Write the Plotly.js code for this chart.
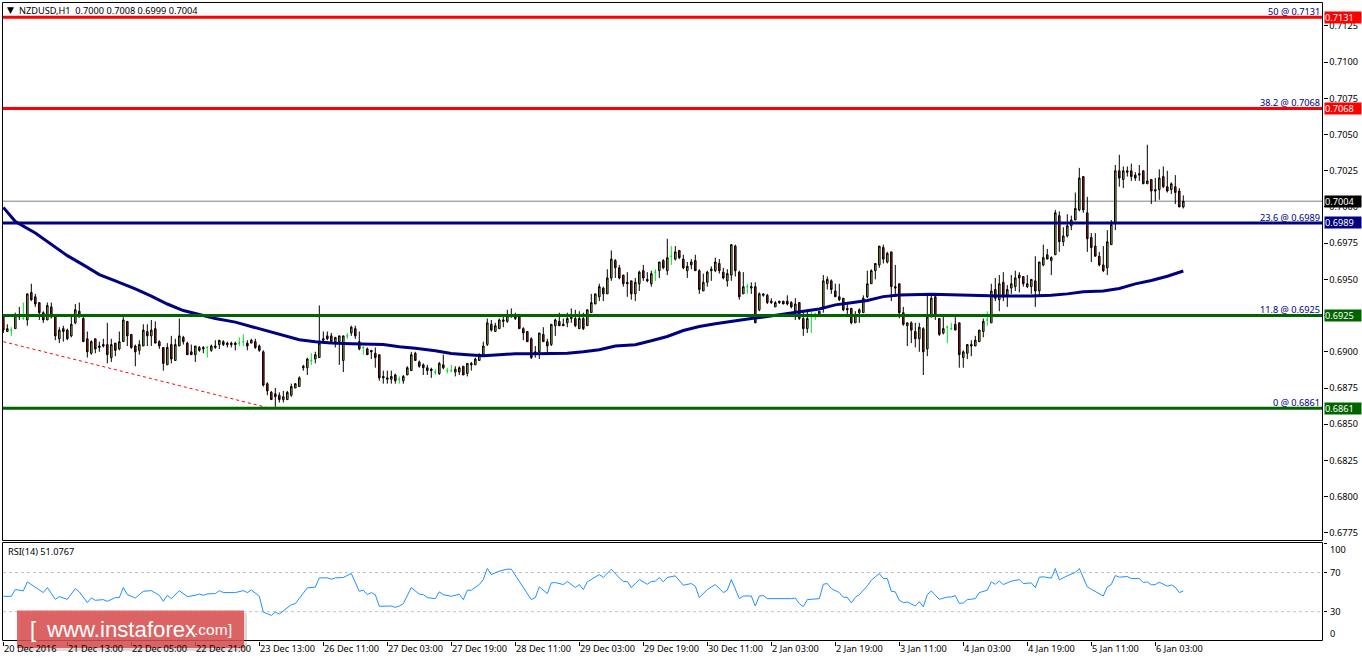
<!DOCTYPE html>
<html><head><meta charset="utf-8">
<script src="https://cdn.plot.ly/plotly-3.0.1.min.js"></script>
<style>html,body{margin:0;padding:0;background:#fff;overflow:hidden}#c{width:1362px;height:661px}</style>
</head><body><div id="c"></div>
<script>
// Hourly bars in pips (price x 10000): [open, high, low, close]
const bars20to22Dec = [
[6925,6925,6913,6915],[6914,6919,6914,6916],[6915,6917,6911,6915],[6916,6927,6916,6925],[6924,6931,6922,6925],[6923,6934,6922,6923],
[6922,6940,6918,6940],[6941,6947,6935,6936],[6938,6940,6931,6933],[6934,6934,6922,6927],[6927,6928,6920,6922],[6922,6934,6922,6932],
[6931,6934,6923,6924],[6924,6925,6908,6911],[6909,6917,6906,6915],[6916,6918,6907,6914],[6915,6916,6908,6909],[6911,6925,6910,6919],
[6920,6933,6919,6929],[6928,6934,6924,6924],[6923,6925,6907,6907],[6909,6914,6896,6900],[6899,6908,6898,6907],[6909,6909,6899,6902],
[6903,6907,6900,6904],[6905,6909,6903,6904],[6905,6920,6892,6898],[6896,6909,6893,6905],[6906,6906,6897,6901],[6902,6914,6901,6907],
[6907,6924,6907,6922],[6921,6921,6904,6911],[6912,6912,6902,6903],[6904,6905,6890,6900],[6901,6908,6898,6905],[6904,6919,6904,6915],
[6914,6919,6904,6911],[6911,6922,6904,6915],[6916,6921,6906,6906],[6907,6908,6902,6904],[6903,6903,6887,6892],[6891,6906,6891,6903],
[6905,6911,6892,6895],[6894,6909,6894,6905],[6904,6923,6904,6911],[6910,6911,6905,6907],[6906,6907,6898,6898],[6900,6905,6898,6898],
[6898,6904,6893,6904],[6903,6904,6900,6901],[6903,6904,6899,6902],[6903,6904,6896,6903],[6901,6905,6900,6904],[6903,6908,6902,6904],
[6905,6908,6902,6908],[6907,6908,6904,6905],[6906,6907,6903,6905],[6906,6907,6903,6905],[6906,6907,6901,6905],[6906,6910,6904,6906],
[6907,6912,6904,6907],[6906,6908,6901,6904],[6906,6909,6906,6908],[6907,6909,6902,6903],[6904,6905,6900,6901],[6900,6901,6876,6877],
[6878,6879,6870,6873],[6872,6873,6867,6867],[6871,6875,6862,6869],[6870,6872,6865,6867],[6867,6873,6865,6869],[6867,6873,6867,6872],
[6870,6878,6869,6876],[6875,6878,6875,6878],[6876,6883,6876,6882]];
const bars23to28Dec = [
[6890,6891,6887,6889],[6889,6896,6884,6895],[6894,6899,6891,6894],[6895,6900,6892,6898],[6896,6932,6896,6906],[6908,6914,6907,6909],
[6911,6914,6908,6909],[6911,6913,6907,6907],[6907,6910,6903,6910],[6907,6911,6891,6911],[6894,6911,6886,6911],[6911,6913,6909,6911],
[6913,6918,6911,6917],[6916,6918,6909,6911],[6907,6914,6901,6902],[6903,6904,6898,6903],[6902,6903,6898,6898],[6901,6901,6895,6900],
[6899,6903,6889,6896],[6898,6898,6880,6882],[6883,6887,6878,6882],[6881,6887,6878,6882],[6881,6887,6878,6883],[6884,6885,6878,6880],
[6881,6883,6878,6881],[6880,6884,6878,6883],[6884,6890,6884,6889],[6887,6900,6887,6898],[6899,6900,6894,6894],[6893,6894,6889,6890],
[6891,6892,6884,6889],[6889,6891,6884,6887],[6888,6889,6882,6887],[6886,6888,6884,6886],[6885,6893,6884,6892],[6891,6898,6888,6889],
[6887,6889,6885,6887],[6887,6891,6886,6887],[6886,6890,6883,6888],[6886,6890,6884,6889],[6890,6890,6884,6884],[6885,6892,6883,6892],
[6892,6893,6887,6891],[6891,6896,6891,6895],[6894,6899,6894,6898],[6898,6907,6897,6904],[6905,6923,6904,6920],[6919,6922,6914,6915],
[6914,6920,6914,6918],[6916,6923,6916,6922],[6921,6925,6917,6922],[6921,6929,6920,6925],[6924,6930,6924,6925],[6925,6927,6922,6923],
[6924,6924,6916,6916],[6916,6917,6908,6913],[6914,6914,6907,6907],[6909,6910,6895,6896],[6900,6904,6896,6899],[6900,6913,6895,6913],
[6912,6917,6907,6907],[6907,6909,6899,6904],[6905,6919,6904,6919],[6918,6923,6911,6922],[6921,6927,6918,6918],[6919,6923,6918,6918],
[6920,6927,6917,6923],[6923,6930,6920,6924],[6923,6929,6917,6918],[6916,6928,6916,6923],[6923,6927,6915,6916],[6918,6929,6918,6929],
[6927,6940,6927,6934],[6933,6940,6933,6940],[6938,6947,6935,6945]];
const bars29DecTo3Jan = [
[6944,6945,6935,6940],[6940,6957,6940,6951],[6951,6970,6949,6964],[6963,6964,6951,6958],[6958,6960,6950,6951],[6953,6953,6945,6947],
[6948,6955,6938,6947],[6949,6949,6936,6940],[6940,6951,6935,6948],[6947,6956,6942,6955],[6956,6960,6949,6951],[6950,6955,6948,6949],
[6947,6956,6945,6954],[6955,6957,6949,6955],[6956,6962,6951,6962],[6963,6964,6957,6958],[6956,6978,6953,6965],[6966,6973,6960,6966],
[6964,6973,6963,6969],[6970,6970,6964,6965],[6964,6967,6957,6958],[6956,6962,6951,6959],[6960,6964,6957,6962],[6963,6967,6956,6956],
[6956,6957,6940,6943],[6942,6954,6942,6948],[6948,6956,6945,6955],[6956,6959,6949,6957],[6956,6965,6955,6962],[6961,6964,6954,6956],
[6955,6958,6950,6951],[6949,6957,6945,6954],[6953,6974,6949,6974],[6973,6974,6952,6956],[6955,6956,6936,6938],[6940,6955,6940,6945],
[6945,6947,6940,6945],[6944,6948,6940,6945],[6945,6948,6920,6920],[6929,6941,6928,6940],[6939,6940,6938,6940],[6939,6940,6933,6934],
[6935,6937,6933,6934],[6931,6935,6931,6934],[6935,6935,6933,6934],[6935,6935,6933,6933],[6935,6939,6932,6933],[6934,6935,6930,6931],
[6928,6937,6922,6933],[6934,6934,6922,6923],[6923,6928,6911,6916],[6916,6928,6913,6923],[6925,6928,6913,6925],[6926,6927,6922,6926],
[6926,6928,6925,6928],[6931,6953,6927,6949],[6947,6952,6943,6950],[6949,6950,6940,6943],[6942,6947,6938,6938],[6938,6947,6935,6936],
[6937,6937,6928,6929],[6930,6933,6924,6929],[6930,6930,6919,6920],[6920,6928,6920,6925],[6927,6930,6920,6929],[6927,6939,6927,6937],
[6938,6956,6937,6947],[6947,6957,6947,6956],[6956,6961,6950,6961],[6960,6973,6958,6973],[6972,6974,6961,6964],[6962,6969,6961,6968],
[6969,6969,6935,6945],[6945,6960,6938,6944],[6947,6947,6923,6927]];
const bars3to6Jan = [
[6927,6931,6918,6919],[6918,6920,6904,6920],[6920,6921,6906,6915],[6914,6920,6903,6909],[6909,6920,6900,6917],[6916,6917,6884,6900],
[6902,6940,6897,6924],[6924,6940,6924,6937],[6938,6939,6922,6925],[6923,6923,6911,6912],[6913,6924,6912,6916],[6917,6918,6906,6917],
[6916,6920,6915,6916],[6919,6924,6915,6915],[6920,6920,6889,6898],[6896,6901,6889,6900],[6899,6905,6895,6905],[6905,6908,6897,6904],
[6904,6911,6904,6908],[6907,6915,6907,6915],[6914,6923,6910,6921],[6922,6928,6918,6922],[6920,6947,6920,6942],[6943,6951,6935,6937],
[6936,6953,6928,6947],[6948,6955,6935,6938],[6939,6946,6931,6943],[6944,6953,6940,6947],[6945,6956,6942,6951],[6951,6955,6941,6953],
[6952,6952,6945,6947],[6945,6953,6944,6947],[6945,6950,6940,6950],[6949,6966,6931,6942],[6942,6962,6939,6962],[6960,6974,6959,6965],
[6967,6971,6964,6964],[6963,6966,6953,6965],[6967,6998,6967,6996],[6994,6997,6969,6976],[6976,6986,6973,6980],[6980,6995,6979,6987],
[6987,6994,6984,6991],[6991,7010,6991,6999],[6998,7027,6997,7020],[7021,7021,6996,6998],[6996,7007,6969,6978],[6979,6982,6962,6972],
[6973,6982,6966,6966],[6966,6969,6959,6960],[6960,6973,6955,6956],[6958,6984,6953,6976],[6974,6991,6974,6988],[6989,7029,6984,7025],
[7025,7036,7014,7020],[7019,7028,7013,7025],[7025,7028,7021,7024],[7025,7030,7018,7021],[7022,7024,7018,7020],[7022,7029,7018,7023],
[7025,7025,7016,7016],[7016,7043,7016,7018],[7019,7019,7002,7011],[7012,7020,7004,7011],[7012,7026,7005,7020],[7021,7028,7013,7014],
[7014,7025,7010,7011],[7012,7017,7009,7016],[7014,7022,7002,7010],[7011,7013,7000,7000],[7000,7008,6999,7004]];

// Moving average, read at bar numbers
const maBar = [0,3,8,12,16,20,24,28,33,37,41,45,49,53,58,62,66,70,74,78,82,87,91,95,99,103,108,112,116,120,124,128,133,137,141,145,149,153,158,162,166,170,174,178,183,187,191,195,200,204,208,212,216,220,224,232,241,249,257,262,266,270,275,279,283,287,291,295];
const maPips = [6999.7,6990,6982,6974.5,6966.4,6960,6953.3,6949,6943.5,6938.4,6933,6928.5,6925.5,6923,6920.5,6917.5,6914.3,6911.3,6908.3,6907,6906,6905.5,6905.5,6905,6903.5,6902.5,6900.7,6898.9,6898,6897.3,6898,6898.6,6898.6,6898.6,6899,6900,6901.4,6904,6904.9,6907.6,6910.6,6914.7,6917.5,6919.3,6921.6,6923,6924.4,6926.2,6928,6929.6,6932.4,6933.8,6935.4,6938.1,6939.3,6939.8,6939,6938.6,6938.6,6939,6940,6941.4,6942,6943.7,6946.9,6949.2,6952.2,6955.8];

// RSI(14), read at bar numbers
const rsiBar = [0,2,3,5,6,7,10,11,13,14,16,18,19,21,22,23,25,26,28,29,30,31,33,35,37,39,40,41,42,44,46,48,49,50,51,53,54,55,58,60,61,62,64,65,67,68,69,72,73,76,78,79,81,82,83,85,87,89,90,91,92,93,94,97,98,99,100,102,104,105,106,108,109,110,112,114,115,116,117,119,120,121,122,124,126,127,129,130,132,133,134,136,137,138,140,141,143,144,145,146,147,149,150,152,154,155,156,157,159,161,162,163,164,165,166,168,170,172,173,174,176,178,180,181,182,184,185,187,188,189,190,191,197,198,199,200,201,204,205,206,207,209,210,211,212,213,214,216,217,219,220,221,222,223,224,225,226,228,229,230,231,232,234,236,237,238,239,240,241,243,244,246,247,248,249,250,252,254,255,257,258,259,260,262,263,264,266,268,269,271,272,275,276,277,278,279,281,282,284,285,286,287,288,289,291,292,293,294,295];
const rsiVal = [45.7,45.7,52.6,51.2,60.4,57.7,49.5,54.6,42.6,45.4,42.6,53.6,50.2,39.2,44,41.6,42.3,40.6,44.4,44.4,54.6,47.4,44,50.8,51.5,46.7,40.6,46.7,43.3,51.5,45.4,46.7,48.1,46.7,48.1,48.5,51.5,49.5,49.5,51.5,49.5,52.2,45.7,29.6,26.2,29.6,27.6,37.2,38.2,54.3,55,64.5,64.5,63.2,64.5,64.9,69,50.8,51.9,47.4,49.5,47.4,35.5,35.8,34.4,35.8,38.2,54.6,47.8,47.4,44.4,43.3,50.2,47.4,45.7,47.8,42.3,51.9,51.9,57.7,62.8,74.1,67.9,71.4,73.4,73.4,61.1,55.3,42.3,44.4,55.3,48.5,59.4,59.7,57.7,60.8,54.6,57.7,52.6,60.4,63.2,67.9,64.9,73.4,64.5,60.8,60.8,54.6,62.8,58,60.8,61.1,64.9,60.4,64.9,66.6,57,58.7,56,44.4,52.6,57.7,49.5,51.9,62.8,43.3,46,46,35.8,46,46.4,43.3,43.3,44,38.2,35.1,42.3,43.3,58,58.7,53.6,49.5,44.7,44.7,38.9,44.7,47.4,56.3,62.1,69,63.8,63.8,50.8,50.2,41.6,39.2,39.9,35.8,40.2,35.1,47.4,51.2,42.6,45,45,46.4,38.5,38.9,42.3,43.3,49.5,51.9,60.4,58,61.4,57.7,61.1,62.8,58.7,59.4,54.6,65.2,65.6,64.2,74.1,62.5,66.6,70,74.1,55.3,52.9,46,55.3,57.7,66.9,65.2,65.9,63.8,63.8,59.7,60.4,57.3,57.7,60.1,56,57.3,55,49.5,51.1];

const timeTickBars = [0,16,32,48,64,80,96,112,128,144,160,176,192,208,224,240,256,272,288];
const timeTickLabels = ["20 Dec 2016","21 Dec 13:00","22 Dec 05:00","22 Dec 21:00","23 Dec 13:00","26 Dec 11:00","27 Dec 03:00","27 Dec 19:00","28 Dec 11:00","29 Dec 03:00","29 Dec 19:00","30 Dec 11:00","2 Jan 03:00","2 Jan 19:00","3 Jan 11:00","4 Jan 03:00","4 Jan 19:00","5 Jan 11:00","6 Jan 03:00"];
const priceTicks = [0.7125,0.71,0.7075,0.705,0.7025,0.7,0.6975,0.695,0.6925,0.69,0.6875,0.685,0.6825,0.68,0.6775];
const rsiTicks = [100,70,30,0];

const levelPrices = [0.7131,0.7068,0.6989,0.6925,0.6861];
const levelNames = ["50 @ 0.7131","38.2 @ 0.7068","23.6 @ 0.6989","11.8 @ 0.6925","0 @ 0.6861"];
const levelColors = ["#ff0000","#ff0000","#000080","#006400","#006400"];
const levelShift = [-2.5,-2.5,-3,-2.5,-2.5];
const lastPrice = 0.7004;
const trendBars = [0,66];
const trendPrices = [0.6907,0.68615];

const FONT = '"Noto Sans", sans-serif', FS = 9.2, W = 1362, H = 661;
const px = x => x / W, py = y => 1 - y / H;

const bars = bars20to22Dec.concat(bars23to28Dec, bars29DecTo3Jan, bars3to6Jan);
const p = v => v / 10000;
function candle(test, lineColor, fill) {
  const idx = bars.map((b, i) => i).filter(i => test(bars[i]));
  const side = {line: {color: lineColor, width: 1}, fillcolor: fill};
  return {type: 'candlestick', x: idx,
    open: idx.map(i => p(bars[i][0])), high: idx.map(i => p(bars[i][1])),
    low: idx.map(i => p(bars[i][2])), close: idx.map(i => p(bars[i][3])),
    increasing: side, decreasing: side, whiskerwidth: 0, hoverinfo: 'skip', xaxis: 'x', yaxis: 'y'};
}
const traces = [
  candle(b => b[3] > b[0], '#000000', '#9acd32'),
  candle(b => b[3] < b[0], '#000000', '#c01414'),
  candle(b => b[3] === b[0], '#00e020', '#00e020'),
  {type: 'scatter', mode: 'lines', x: trendBars, y: trendPrices, yaxis: 'y',
   line: {color: '#ff0000', width: 1, dash: '3px,3px'}, hoverinfo: 'skip'},
  {type: 'scatter', mode: 'lines', x: maBar, y: maPips.map(p), yaxis: 'y',
   line: {color: '#000080', width: 3}, hoverinfo: 'skip'},
  {type: 'scatter', mode: 'lines', x: rsiBar, y: rsiVal, yaxis: 'y2',
   line: {color: '#1e90ff', width: 1}, hoverinfo: 'skip'}
];

const shapes = [], annotations = [];
const txt = (o) => annotations.push(Object.assign({showarrow: false, font: {family: FONT, size: FS, color: '#000'}, xref: 'paper', yref: 'paper'}, o));

levelPrices.forEach((v, k) => {
  shapes.push({type: 'line', xref: 'x domain', x0: 0, x1: 1, yref: 'y', y0: v, y1: v, layer: 'above', line: {color: levelColors[k], width: 3}});
  txt({x: px(1322), xanchor: 'right', yref: 'y', y: v, yanchor: 'bottom', yshift: levelShift[k], text: levelNames[k], font: {family: FONT, size: FS, color: '#000080'}});
  txt({x: px(1324), xanchor: 'left', yref: 'y', y: v, yanchor: 'middle', text: v.toFixed(4), bgcolor: levelColors[k], width: 36, height: 11, align: 'left', borderpad: 0, font: {family: FONT, size: FS, color: '#fff'}});
});
shapes.push({type: 'line', xref: 'x domain', x0: 0, x1: 1, yref: 'y', y0: lastPrice, y1: lastPrice, layer: 'below', line: {color: '#808080', width: 1}});
txt({x: px(1324), xanchor: 'left', yref: 'y', y: lastPrice, yanchor: 'middle', text: lastPrice.toFixed(4), bgcolor: '#000', width: 36, height: 11, align: 'left', borderpad: 0, font: {family: FONT, size: FS, color: '#fff'}});

// panel borders
shapes.push({type: 'rect', xref: 'paper', yref: 'paper', x0: px(2.5), x1: px(1322.5), y0: py(540.5), y1: py(2.5), layer: 'above', line: {color: '#000', width: 1}});
shapes.push({type: 'rect', xref: 'paper', yref: 'paper', x0: px(2.5), x1: px(1322.5), y0: py(640.5), y1: py(542.5), layer: 'above', line: {color: '#000', width: 1}});
// RSI levels
[70, 30].forEach(v => shapes.push({type: 'line', xref: 'x domain', x0: 0, x1: 1, yref: 'y2', y0: v, y1: v, layer: 'below', line: {color: '#c0c0c0', width: 1, dash: '3px,3px'}}));

// header and indicator caption
txt({x: px(5), xanchor: 'left', y: py(10), yanchor: 'middle', text: '▼', font: {family: 'DejaVu Sans', size: 9, color: '#000'}});
txt({x: px(16.5), xanchor: 'left', y: py(10), yanchor: 'middle', text: 'NZDUSD,H1  0.7000 0.7008 0.6999 0.7004'});
txt({x: px(5.5), xanchor: 'left', y: py(551.5), yanchor: 'middle', text: 'RSI(14) 51.0767'});

// time labels start at their tick
timeTickBars.forEach((b, k) => txt({x: b, xref: 'x', xanchor: 'left', xshift: -1, y: py(648), yanchor: 'middle', text: timeTickLabels[k]}));

// RSI scale labels
[[100, 549.5], [70, 572.5], [30, 611], [0, 633.5]].forEach(r => txt({x: px(1328), xanchor: 'left', y: py(r[1]), yanchor: 'middle', text: String(r[0])}));

// watermark
shapes.push({type: 'rect', xref: 'paper', yref: 'paper', x0: px(20), x1: px(247), y0: py(651), y1: py(613), layer: 'above', line: {width: 0}, fillcolor: 'rgba(60,60,60,0.18)'});
shapes.push({type: 'rect', xref: 'paper', yref: 'paper', x0: px(17), x1: px(244), y0: py(648), y1: py(610.5), layer: 'above', line: {width: 0}, fillcolor: 'rgba(219,78,78,0.85)'});
const wm = (x, t, s) => txt({x: px(x), xanchor: 'left', y: py(629), yanchor: 'middle', text: t, font: {family: '"Liberation Sans", sans-serif', size: s, color: '#fff'}});
wm(28, '[', 22); wm(44, 'www.instaforex', 22.2); wm(191.5, '.com', 15.5); wm(226.5, ']', 15);

const layout = {
  width: W, height: H, paper_bgcolor: '#fff', plot_bgcolor: '#fff', showlegend: false,
  margin: {l: 0, r: 0, t: 0, b: 0}, boxgap: 0.45, boxmode: 'overlay', hovermode: false,
  xaxis: {domain: [px(3), px(1322.5)], range: [-0.08, 329.8], anchor: 'y2', type: 'linear', showgrid: false, zeroline: false,
    rangeslider: {visible: false}, tickmode: 'array', tickvals: timeTickBars, ticks: 'outside', ticklen: 4, tickcolor: '#000', showticklabels: false},
  yaxis: {domain: [py(540.5), py(2.5)], range: [0.67697, 0.71412], side: 'right', anchor: 'x', showgrid: false, zeroline: false,
    tickmode: 'array', tickvals: priceTicks, ticktext: priceTicks.map(v => v.toFixed(4)), ticks: 'outside', ticklen: 4, tickcolor: '#000',
    tickfont: {family: FONT, size: FS, color: '#000'}},
  yaxis2: {domain: [py(640.5), py(542.5)], range: [0.6, 100.6], side: 'right', anchor: 'x', showgrid: false, zeroline: false,
    tickmode: 'array', tickvals: rsiTicks, ticks: 'outside', ticklen: 3, tickcolor: '#000', showticklabels: false},
  shapes, annotations
};
Plotly.newPlot('c', traces, layout, {staticPlot: true, displayModeBar: false});
</script>
</body></html>
